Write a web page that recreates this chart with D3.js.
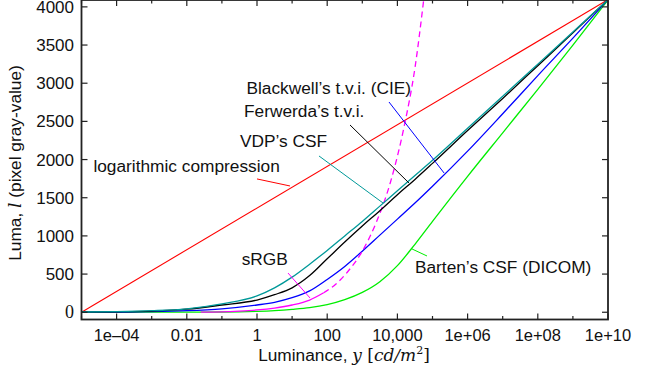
<!DOCTYPE html>
<html><head><meta charset="utf-8">
<script src="https://cdn.jsdelivr.net/npm/d3@7"></script>
<style>
body{margin:0;background:#fff;}
svg{display:block;font-family:"Liberation Sans",Arial,sans-serif;}
</style></head>
<body><svg id="c" width="650" height="370"></svg>
<script>
// ---- data (log10 of luminance in cd/m^2, luma values) ----
const logLum = [-5,-4,-3,-2,-1,0,0.5,1,1.5,2,2.5,3,3.5,4,4.5,5,6,7,8,9,10];
const vdpCSF     = [3,8,20,45,110,215,320,460,630,810,1000,1190,1390,1590,1790,1990,2410,2830,3250,3670,4095];
const ferwerda   = [2,6,15,40,95,160,230,320,480,700,920,1130,1330,1540,1740,1950,2380,2800,3230,3660,4095];
const blackwell  = [1,3,8,20,45,95,130,190,280,430,600,800,1010,1220,1430,1650,2110,2600,3100,3590,4095];
const barten     = [0,0,1,2,3,12,22,38,60,100,165,260,400,610,890,1190,1780,2350,2920,3500,4090];
const logCompLog = [-5,10];
const logComp    = [0,4095];
const srgbSolidLog = [-1.6,-1,-0.5,0,0.5,1,1.5,1.9];
const srgbSolid    = [1,5,15,30,55,95,160,255];
const srgbDashLog  = [1.9,2.25,2.6,3,3.4,3.8,4.2,4.5,4.75];
const srgbDash     = [255,370,540,800,1180,1700,2450,3200,4095];
const xTickLogs   = [-5,-4,-3,-2,-1,0,1,2,3,4,5,6,7,8,9,10];
const xLabelLogs  = [-4,-2,0,2,4,6,8,10];
const xLabels     = ["1e\u201304","0.01","1","100","10,000","1e+06","1e+08","1e+10"];
const yTicks      = [0,500,1000,1500,2000,2500,3000,3500,4000];
// annotations: label, text anchor point (log, luma), leader from/to (log, luma)
const annLabels = ["logarithmic compression","VDP\u2019s CSF","Ferwerda\u2019s t.v.i.","Blackwell\u2019s t.v.i. (CIE)","sRGB","Barten\u2019s CSF (DICOM)"];
const annText   = [[-4.66,1831],[-0.484,2158],[-0.37,2551],[-0.3,2859],[-0.436,619],[4.5,508]];
const annFrom   = [[0,1746],[1.766,2047],[2.65,2453],[3.76,2754],[0.883,514],[4.416,829]];
const annTo     = [[0.94,1654],[3.59,1431],[4.33,1693],[5.33,1824],[1.51,187],[4.843,737]];
const annColors = ["#ff0000","#009999","#000000","#0000ff","#ff00ff","#00ee00"];

const svg = d3.select("#c");
const L = 81.5, R = 608, T = 0, B = 319.5;
const x = d3.scaleLog().domain([1e-5,1e10]).range([L,R]);
const y = d3.scaleLinear().domain([-95,4090]).range([B,T]);
const X = v => x(Math.pow(10,v));
const serif = "'DejaVu Serif','Liberation Serif',serif";

svg.append("defs").append("clipPath").attr("id","clip")
  .append("rect").attr("x",L).attr("y",T).attr("width",R-L).attr("height",B-T);

const g = svg.append("g").attr("clip-path","url(#clip)");
const line = d3.line().x(d=>X(d[0])).y(d=>y(d[1])).curve(d3.curveMonotoneX);
function draw(logs, vals, color, w, dash){
  const p = g.append("path").datum(logs.map((l,i)=>[l,vals[i]]))
    .attr("d",line).attr("fill","none").attr("stroke",color).attr("stroke-width",w);
  if(dash) p.attr("stroke-dasharray",dash);
}
draw(logCompLog, logComp, "#ff0000", 1.1);
draw(logLum, barten, "#00ee00", 1.3);
draw(logLum, blackwell, "#0000ff", 1.3);
draw(srgbDashLog, srgbDash, "#ff00ff", 1.3, "6,4");
draw(srgbSolidLog, srgbSolid, "#ff00ff", 1.3);
draw(logLum, ferwerda, "#000000", 1.3);
draw(logLum, vdpCSF, "#009999", 1.3);

// annotations
annLabels.forEach((t,i)=>{
  svg.append("line").attr("x1",X(annFrom[i][0])).attr("y1",y(annFrom[i][1]))
    .attr("x2",X(annTo[i][0])).attr("y2",y(annTo[i][1]))
    .attr("stroke",annColors[i]).attr("stroke-width",1);
  svg.append("text").attr("x",X(annText[i][0])).attr("y",y(annText[i][1]))
    .attr("font-size",17.3).attr("fill","#111").text(t);
});

// frame & ticks
const ax = svg.append("g").attr("stroke","#222").attr("stroke-width",1.2);
xTickLogs.forEach(v=>{
  const len = (Math.abs(v)%2===0)?6:3.5;
  ax.append("line").attr("x1",X(v)).attr("x2",X(v)).attr("y1",B).attr("y2",B-len);
  ax.append("line").attr("x1",X(v)).attr("x2",X(v)).attr("y1",T).attr("y2",T+len);
});
yTicks.forEach(v=>{
  ax.append("line").attr("x1",L).attr("x2",L+6).attr("y1",y(v)).attr("y2",y(v));
  ax.append("line").attr("x1",R).attr("x2",R-6).attr("y1",y(v)).attr("y2",y(v));
});
svg.append("rect").attr("x",L).attr("y",T).attr("width",R-L).attr("height",B-T)
  .attr("fill","none").attr("stroke","#222").attr("stroke-width",1.8);

xLabelLogs.forEach((v,i)=>{
  svg.append("text").attr("x",X(v)).attr("y",340.5).attr("text-anchor","middle")
    .attr("font-size",16.5).attr("fill","#111").text(xLabels[i]);
});
yTicks.forEach(v=>{
  const t = svg.append("text").attr("x",74).attr("y",y(v)+6).attr("text-anchor","end")
    .attr("font-size",17).attr("fill","#111").text(v);
  if(v===0) t.attr("font-family","'Liberation Serif',serif").attr("font-size",18);
});

// axis titles
const xt = svg.append("text").attr("x",344).attr("y",361).attr("text-anchor","middle")
  .attr("font-size",17.3).attr("fill","#111");
xt.append("tspan").text("Luminance, ");
xt.append("tspan").attr("font-family",serif).attr("font-style","italic").attr("font-size",17).text("y");
xt.append("tspan").attr("font-family",serif).attr("font-size",17).text(" [");
xt.append("tspan").attr("font-family",serif).attr("font-style","italic").attr("font-size",17).text("cd/m");
xt.append("tspan").attr("font-family",serif).attr("font-size",11).attr("dy",-7).text("2");
xt.append("tspan").attr("font-family",serif).attr("font-size",17).attr("dy",7).text("]");

const yt = svg.append("text").attr("transform","translate(21,163) rotate(-90)")
  .attr("text-anchor","middle").attr("font-size",17.3).attr("fill","#111");
yt.append("tspan").text("Luma, ");
yt.append("tspan").attr("font-family",serif).attr("font-style","italic").attr("font-size",17).text("l");
yt.append("tspan").text(" (pixel gray-value)");
</script></body></html>
